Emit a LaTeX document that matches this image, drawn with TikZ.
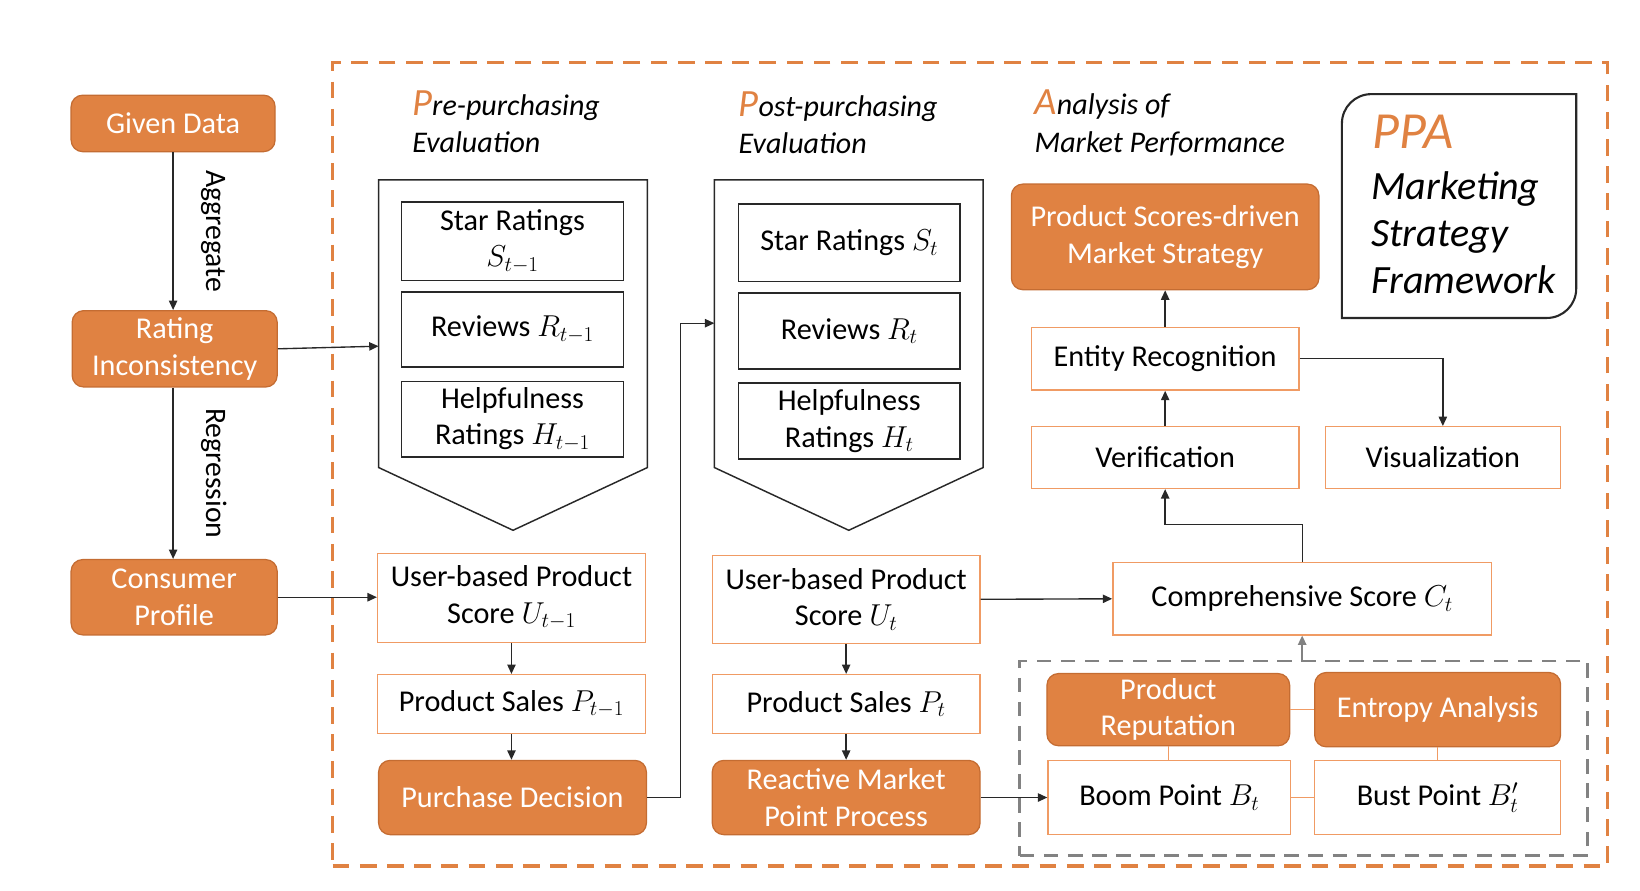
\documentclass[tikz,border=0pt]{standalone}
\usepackage{fix-cm}
\usepackage{fontspec}
\setmainfont{Carlito}
\usetikzlibrary{arrows.meta,calc}
\definecolor{ofill}{RGB}{224,130,66}
\definecolor{odraw}{RGB}{196,108,50}
\definecolor{olight}{RGB}{240,155,100}
\definecolor{kline}{RGB}{40,40,40}
\definecolor{gline}{RGB}{130,130,130}
\tikzset{
  base/.style={font=\fontsize{29}{35}\selectfont, align=center, inner sep=2bp},
  obox/.style={base, rounded corners=11bp, fill=ofill, draw=odraw, line width=1.2bp, text=white},
  wbox/.style={base, fill=white, draw=olight, line width=1.3bp},
  kbox/.style={base, draw=kline, line width=1.4bp},
  arr/.style={draw=kline, line width=1.3bp, -{Triangle[length=9bp,width=8bp]}},
  garr/.style={draw=gline, line width=2bp, -{Triangle[length=9bp,width=8bp]}},
  oline/.style={draw=olight, line width=1.3bp},
  hdr/.style={font=\fontsize{28.8}{34}\selectfont\itshape, anchor=base west, inner sep=0pt},
  ppat/.style={font=\fontsize{38.5}{44}\selectfont\itshape, anchor=base west, inner sep=0pt},
  rlab/.style={font=\fontsize{28.5}{34}\selectfont, rotate=-90, inner sep=0pt},
}
\newcommand{\bigP}[1]{\textcolor{ofill}{\fontsize{37}{37}\selectfont #1}}
\begin{document}
\begin{tikzpicture}[x=1bp,y=-1bp]
\useasboundingbox (0,0) rectangle (1568,851);
% outer dashed frame
\node[draw=ofill, line width=3.2bp, dash pattern=on 16bp off 10bp, minimum width=1219bp, minimum height=768bp, inner sep=0pt] (outer) at (927.5,444) {};
% left column
\node[obox, minimum width=195bp, minimum height=54bp] (given) at (165.5,118) {Given Data};
\node[obox, minimum width=196bp, minimum height=73bp] (rating) at (167,333.5) {Rating\\Inconsistency};
\node[obox, minimum width=197bp, minimum height=72bp] (consumer) at (166.5,571) {Consumer\\Profile};
\draw[arr] (given.south) -- (rating.north -| given.south) node[midway, right=26bp, rlab, anchor=south] (aggl) {Aggregate};
\draw[arr] (rating.south -| given.south) -- (consumer.north -| given.south) node[midway, right=26bp, rlab, anchor=south] (regl) {Regression};
% headers
\node[hdr] (h1a) at (394,110) {\bigP{P}re-purchasing};
\node[hdr] (h1b) at (394,146) {Evaluation};
\node[hdr] (h2a) at (706,111) {\bigP{P}ost-purchasing};
\node[hdr] (h2b) at (706,147) {Evaluation};
\node[hdr] (h3a) at (989,109) {\bigP{A}nalysis of};
\node[hdr] (h3b) at (989,146) {Market Performance};
% PPA box
\draw[kline, line width=2bp] (1283,304) -- (1283,118) arc[start angle=180, end angle=90, radius=28bp] -- (1507,90) -- (1507,276) arc[start angle=0, end angle=-90, radius=28bp] -- cycle;
\node[ppat, text=ofill, font=\fontsize{50}{50}\selectfont\itshape] (ppa) at (1312,142) {PPA};
\node[ppat] (ppa1) at (1311,191) {Marketing};
\node[ppat] (ppa2) at (1311,236) {Strategy};
\node[ppat] (ppa3) at (1311,281) {Framework};
% pre-purchasing pentagon
\draw[kline, line width=1.4bp] (362,172) -- (619,172) -- (619,447) -- (490.5,507) -- (362,447) -- cycle;
\coordinate (preL) at (362,331);
\node[kbox, minimum width=212bp, minimum height=75bp] (s1) at (490,230.5) {Star Ratings\\$S_{t-1}$};
\node[kbox, minimum width=212bp, minimum height=72bp] (r1) at (490,315) {Reviews $R_{t-1}$};
\node[kbox, minimum width=212bp, minimum height=72bp] (hh1) at (490,401) {Helpfulness\\Ratings $H_{t-1}$};
% post-purchasing pentagon
\draw[kline, line width=1.4bp] (683,172) -- (940,172) -- (940,447) -- (811.5,507) -- (683,447) -- cycle;
\coordinate (postL) at (683,309);
\node[kbox, minimum width=212bp, minimum height=74bp] (s2) at (812,232) {Star Ratings $S_t$};
\node[kbox, minimum width=212bp, minimum height=73bp] (r2) at (812,316.5) {Reviews $R_t$};
\node[kbox, minimum width=212bp, minimum height=73bp] (hh2) at (812,402.5) {Helpfulness\\Ratings $H_t$};
% lower pre column
\node[wbox, minimum width=256bp, minimum height=85bp] (u1) at (489,571.5) {User-based Product\\Score $U_{t-1}$};
\node[wbox, minimum width=256bp, minimum height=56bp] (p1) at (489,673) {Product Sales $P_{t-1}$};
\node[obox, minimum width=256bp, minimum height=71bp] (pd) at (490,762.5) {Purchase Decision};
% lower post column
\node[wbox, minimum width=256bp, minimum height=84bp] (u2) at (809,573) {User-based Product\\Score $U_t$};
\node[wbox, minimum width=256bp, minimum height=56bp] (p2) at (809,673) {Product Sales $P_t$};
\node[obox, minimum width=256bp, minimum height=71bp] (rm) at (809,762.5) {Reactive Market\\Point Process};
% analysis column
\node[obox, minimum width=294bp, minimum height=101bp] (pss) at (1114,226.5) {Product Scores-driven\\Market Strategy};
\node[wbox, minimum width=256bp, minimum height=60bp] (ent) at (1114,343) {Entity Recognition};
\node[wbox, minimum width=256bp, minimum height=59bp] (ver) at (1114,437.5) {Verification};
\node[wbox, minimum width=225bp, minimum height=59bp] (vis) at (1379.5,437.5) {Visualization};
\node[wbox, minimum width=362bp, minimum height=69bp] (comp) at (1245,572.5) {Comprehensive Score $C_t$};
% gray dashed group
\node[draw=gline, line width=2.5bp, dash pattern=on 14bp off 9bp, minimum width=543bp, minimum height=186bp, inner sep=0pt] (gbox) at (1246.5,725) {};
\node[obox, minimum width=232bp, minimum height=69bp] (rep) at (1117,678.5) {Product\\Reputation};
\node[obox, minimum width=235bp, minimum height=71bp] (ent2) at (1374.5,678.5) {Entropy Analysis};
\node[wbox, minimum width=232bp, minimum height=71bp] (boom) at (1118,762.5) {Boom Point $B_t$};
\node[wbox, minimum width=235bp, minimum height=71bp] (bust) at (1374.5,762.5) {Bust Point $B_t'$};
\draw[oline] (rep.east) -- (ent2.west |- rep.east);
\draw[oline] (rep.south) -- (boom.north -| rep.south);
\draw[oline] (ent2.south) -- (bust.north -| ent2.south);
\draw[oline] (boom.east) -- (bust.west);
% connectors
\draw[arr] (rating.east) -- (preL);
\draw[arr] (consumer.east) -- (u1.west |- consumer.east);
\draw[arr] (u1.south) -- (p1.north);
\draw[arr] (p1.south) -- (pd.north -| p1.south);
\draw[arr] (pd.east) -- ++(32,0) |- (postL);
\draw[arr] (u2.south) -- (p2.north);
\draw[arr] (p2.south) -- (rm.north);
\draw[arr] (u2.east) -- (comp.west);
\draw[arr] (rm.east) -- (boom.west);
\draw[arr] (comp.north) -- ++(0,-36) -| (ver.south);
\draw[arr] (ver.north) -- (ent.south);
\draw[arr] (ent.north) -- (pss.south);
\draw[arr] (ent.east) -| (vis.north);
\draw[garr] (gbox.north -| comp.south) -- (comp.south);
\end{tikzpicture}
\end{document}
